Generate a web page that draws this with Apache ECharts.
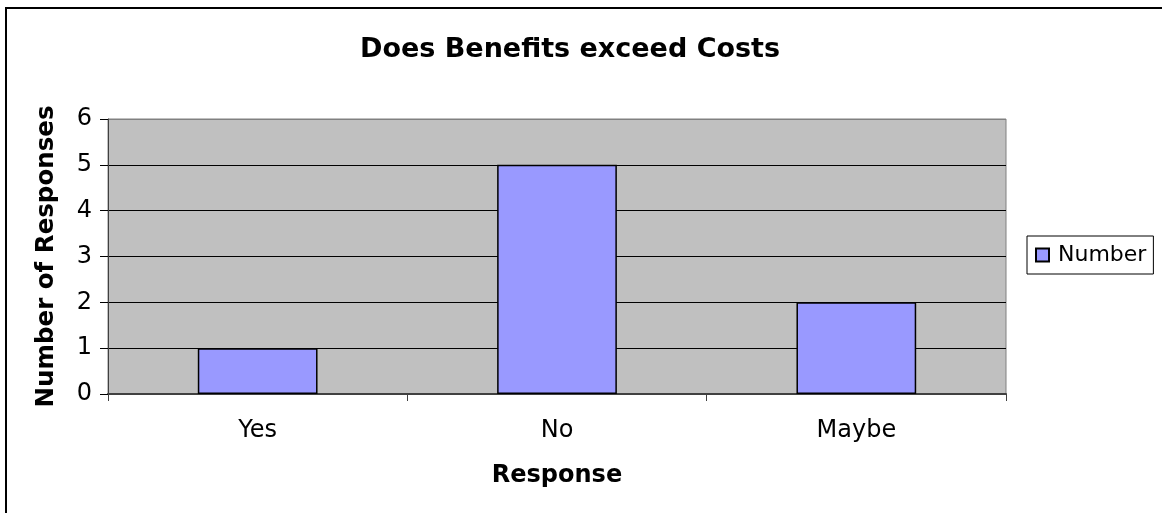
<!DOCTYPE html>
<html>
<head>
<meta charset="utf-8">
<script src="https://cdn.jsdelivr.net/npm/echarts@6/dist/echarts.min.js"></script>
<style>
  html, body { margin: 0; padding: 0; background: #fff; }
  #chart { width: 1162px; height: 513px; }
</style>
</head>
<body>
<div id="chart"></div>
<script>
// data
var categories = ['Yes', 'No', 'Maybe'];
var numberValues = [1, 5, 2];
var seriesName = 'Number';

var FONT = 'DejaVu Sans';

var chart = echarts.init(document.getElementById('chart'));

chart.setOption({
    animation: false,
    backgroundColor: '#fff',
    textStyle: { fontFamily: FONT, color: '#000' },
    // outer frame, only top and left visible in the picture
    graphic: [{
        type: 'rect',
        shape: { x: 6, y: 8, width: 1300, height: 700 },
        style: { fill: null, stroke: '#000', lineWidth: 2 },
        silent: true
    }],
    title: {
        text: 'Does Benefits exceed Costs',
        left: 355,
        top: 31,
        textStyle: { fontFamily: FONT, fontSize: 27, fontWeight: 'bold', color: '#000' }
    },
    legend: {
        data: [seriesName],
        left: 1027,
        top: 236,
        orient: 'vertical',
        icon: 'rect',
        itemWidth: 13,
        itemHeight: 13,
        padding: [8, 7, 8, 8],
        borderColor: '#000',
        borderWidth: 1,
        textStyle: { fontFamily: FONT, fontSize: 22, color: '#000', padding: [0, 0, 0, 4] }
    },
    grid: {
        left: 108,
        right: 156,
        top: 119,
        bottom: 119,
        show: true,
        backgroundColor: '#C0C0C0',
        borderColor: '#808080',
        borderWidth: 1
    },
    xAxis: {
        type: 'category',
        data: categories,
        name: 'Response',
        nameLocation: 'middle',
        nameGap: 70,
        nameTextStyle: { fontFamily: FONT, fontSize: 24, fontWeight: 'bold', color: '#000' },
        axisLine: { lineStyle: { color: '#404040', width: 2 } },
        axisTick: { show: true, length: 7, lineStyle: { color: '#404040' } },
        axisLabel: { margin: 25, fontFamily: FONT, fontSize: 24, color: '#000' }
    },
    yAxis: {
        type: 'value',
        min: 0,
        max: 6,
        interval: 1,
        name: 'Number of Responses',
        nameLocation: 'middle',
        nameGap: 49,
        nameTextStyle: { fontFamily: FONT, fontSize: 24.5, fontWeight: 'bold', color: '#000' },
        axisLine: { show: true, lineStyle: { color: '#404040', width: 1 } },
        axisTick: { show: true, length: 8, lineStyle: { color: '#000' } },
        axisLabel: { margin: 16, fontFamily: FONT, fontSize: 24, color: '#000' },
        splitLine: {
            lineStyle: { color: ['#404040', '#000', '#000', '#000', '#000', '#000', '#808080'], width: 1 }
        }
    },
    series: [{
        name: seriesName,
        type: 'bar',
        data: numberValues,
        barWidth: '40%',
        itemStyle: { color: '#9999FF', borderColor: '#000', borderWidth: 1.5 }
    }]
});
</script>
</body>
</html>
